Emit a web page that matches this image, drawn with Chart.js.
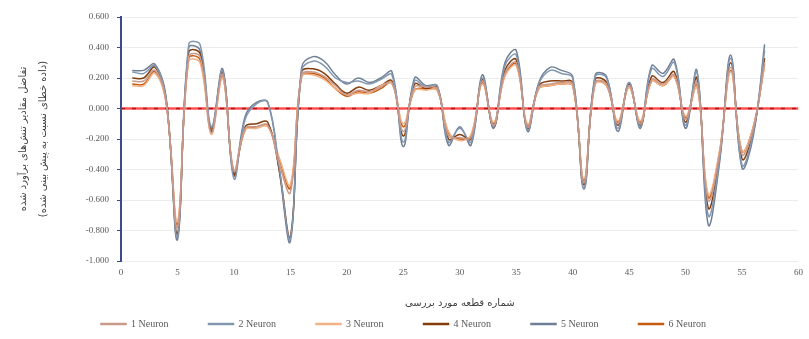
<!DOCTYPE html>
<html>
<head>
<meta charset="utf-8">
<script src="https://cdn.jsdelivr.net/npm/chart.js@4"></script>
<style>
  html, body { margin: 0; padding: 0; background: #fff; }
  #wrap { width: 809px; height: 339px; }
</style>
</head>
<body>
<div id="wrap"><canvas id="myChart"></canvas></div>
<script>
// piece numbers 1..57
var pieces = [1,2,3,4,5,6,7,8,9,10,11,12,13,14,15,16,17,18,19,20,21,22,23,24,25,26,27,28,29,30,
              31,32,33,34,35,36,37,38,39,40,41,42,43,44,45,46,47,48,49,50,51,52,53,54,55,56,57];

var n1 = [0.18,0.18,0.25,0.04,-0.78,0.34,0.34,-0.16,0.22,-0.41,-0.13,-0.12,-0.11,-0.36,-0.55,0.22,0.24,0.21,0.15,0.09,
          0.12,0.11,0.14,0.17,-0.15,0.14,0.14,0.13,-0.18,-0.19,-0.19,0.18,-0.11,0.23,0.30,-0.12,0.14,0.16,0.17,0.16,
          -0.48,0.17,0.16,-0.10,0.15,-0.10,0.19,0.16,0.22,-0.07,0.17,-0.60,-0.30,0.27,-0.30,-0.13,0.30];
var n2 = [0.24,0.23,0.28,0.06,-0.84,0.42,0.42,-0.12,0.25,-0.46,-0.07,0.03,0.04,-0.38,-0.85,0.25,0.31,0.28,0.20,0.17,
          0.18,0.16,0.19,0.22,-0.22,0.18,0.14,0.15,-0.22,-0.13,-0.22,0.20,-0.12,0.28,0.35,-0.14,0.16,0.25,0.23,0.20,
          -0.52,0.21,0.20,-0.13,0.17,-0.12,0.26,0.21,0.30,-0.11,0.24,-0.70,-0.34,0.33,-0.37,-0.16,0.38];
var n3 = [0.15,0.15,0.23,0.03,-0.74,0.31,0.30,-0.17,0.20,-0.40,-0.14,-0.13,-0.12,-0.32,-0.50,0.21,0.22,0.19,0.13,0.09,
          0.10,0.10,0.15,0.16,-0.10,0.12,0.12,0.12,-0.15,-0.21,-0.17,0.16,-0.09,0.21,0.28,-0.10,0.13,0.15,0.16,0.15,
          -0.46,0.16,0.15,-0.08,0.14,-0.08,0.18,0.15,0.21,-0.05,0.14,-0.56,-0.28,0.24,-0.28,-0.12,0.28];
var n4 = [0.20,0.20,0.27,0.05,-0.82,0.37,0.36,-0.15,0.24,-0.43,-0.12,-0.10,-0.09,-0.40,-0.84,0.24,0.26,0.23,0.16,0.10,
          0.14,0.12,0.15,0.18,-0.18,0.16,0.13,0.14,-0.20,-0.17,-0.20,0.19,-0.12,0.25,0.32,-0.13,0.15,0.18,0.18,0.17,
          -0.50,0.19,0.17,-0.11,0.16,-0.11,0.21,0.17,0.24,-0.09,0.20,-0.65,-0.32,0.30,-0.33,-0.15,0.33];
var n5 = [0.25,0.25,0.29,0.07,-0.86,0.40,0.38,-0.14,0.26,-0.44,-0.05,0.04,0.04,-0.40,-0.87,0.27,0.34,0.31,0.22,0.16,
          0.20,0.17,0.20,0.24,-0.25,0.20,0.15,0.15,-0.24,-0.12,-0.24,0.22,-0.13,0.30,0.38,-0.15,0.17,0.27,0.25,0.21,
          -0.53,0.22,0.21,-0.15,0.17,-0.13,0.28,0.23,0.32,-0.13,0.25,-0.76,-0.36,0.35,-0.39,-0.18,0.42];
var n6 = [0.16,0.16,0.24,0.04,-0.76,0.33,0.32,-0.13,0.21,-0.42,-0.14,-0.12,-0.11,-0.33,-0.52,0.21,0.23,0.20,0.13,0.08,
          0.11,0.10,0.13,0.17,-0.12,0.12,0.13,0.12,-0.16,-0.20,-0.18,0.17,-0.10,0.22,0.29,-0.11,0.13,0.15,0.16,0.15,
          -0.47,0.17,0.15,-0.09,0.14,-0.09,0.18,0.15,0.21,-0.06,0.15,-0.58,-0.29,0.25,-0.28,-0.12,0.29];

var seriesNames = ['1 Neuron', '2 Neuron', '3 Neuron', '4 Neuron', '5 Neuron', '6 Neuron'];
var seriesColors = ['#c9998a', '#8497b0', '#f4b183', '#843c0c', '#6f7f95', '#c55a11'];
var seriesData = [n1, n2, n3, n4, n5, n6];

var zeroLineX = [0, 60];

function toPoints(vals) {
    var pts = [];
    for (var i = 0; i < vals.length; i++) {
        pts.push({x: pieces[i], y: vals[i]});
    }
    return pts;
}

var datasets = [];
// red reference line at zero
datasets.push({
    label: 'zero',
    data: [{x: zeroLineX[0], y: 0}, {x: zeroLineX[1], y: 0}],
    borderColor: '#ff5050',
    borderWidth: 2.5,
    pointRadius: 0,
    order: 10
});
datasets.push({
    label: 'zeroDash',
    data: [{x: zeroLineX[0], y: 0}, {x: zeroLineX[1], y: 0}],
    borderColor: '#b01818',
    borderWidth: 1.5,
    borderDash: [4, 7],
    pointRadius: 0,
    order: 9
});
for (var s = 0; s < seriesNames.length; s++) {
    datasets.push({
        label: seriesNames[s],
        data: toPoints(seriesData[s]),
        borderColor: seriesColors[s],
        backgroundColor: seriesColors[s],
        borderWidth: 1.5,
        pointRadius: 0,
        tension: 0.4,
        order: 1
    });
}

var ctx = document.getElementById('myChart').getContext('2d');
var chart = new Chart(ctx, {
    type: 'line',
    data: { datasets: datasets },
    options: {
        responsive: true,
        maintainAspectRatio: false,
        animation: false,
        layout: { padding: { left: 5, right: 7, top: 17, bottom: 0 } },
        plugins: {
            tooltip: { enabled: false },
            legend: {
                position: 'bottom',
                labels: {
                    // only the six neuron series, widened with trailing spaces for wider gaps
                    generateLabels: function (chart) {
                        var items = Chart.defaults.plugins.legend.labels.generateLabels(chart);
                        items = items.filter(function (it) { return it.text.indexOf('Neuron') >= 0; });
                        for (var k = 0; k < items.length - 1; k++) {
                            items[k].text = items[k].text + '            ';
                        }
                        return items;
                    },
                    boxWidth: 25,
                    boxHeight: 1,
                    padding: 10,
                    color: '#595959',
                    font: { family: 'Liberation Serif', size: 10 }
                }
            }
        },
        scales: {
            x: {
                type: 'linear',
                min: 0,
                max: 60,
                ticks: { stepSize: 5, color: '#595959', padding: 6, font: { family: 'Liberation Serif', size: 9 } },
                grid: { display: false, drawTicks: false },
                border: { display: false },
                title: {
                    display: true,
                    text: 'شماره قطعه مورد بررسی',
                    color: '#404040',
                    padding: { top: 11, bottom: 0 },
                    font: { family: 'DejaVu Sans', size: 10 }
                },
                afterFit: function (scale) { scale.height = 48; }
            },
            y: {
                min: -1,
                max: 0.6,
                ticks: {
                    stepSize: 0.2,
                    color: '#595959',
                    padding: 8,
                    font: { family: 'Liberation Serif', size: 9 },
                    callback: function (v) { return v.toFixed(3); }
                },
                grid: { color: '#ececec', tickLength: 4, tickColor: '#3b4a8a' },
                border: { display: true, color: '#3b4a8a', width: 2 },
                title: {
                    display: true,
                    text: ['تفاضل مقادیر تنش‌های برآورد شده', '(داده خطای نسبت به پیش بینی شده)'],
                    color: '#404040',
                    padding: { top: 8, bottom: 0 },
                    font: { family: 'DejaVu Sans', size: 10, lineHeight: 2 }
                },
                afterFit: function (scale) { scale.width = 116; }
            }
        }
    }
});
</script>
</body>
</html>
